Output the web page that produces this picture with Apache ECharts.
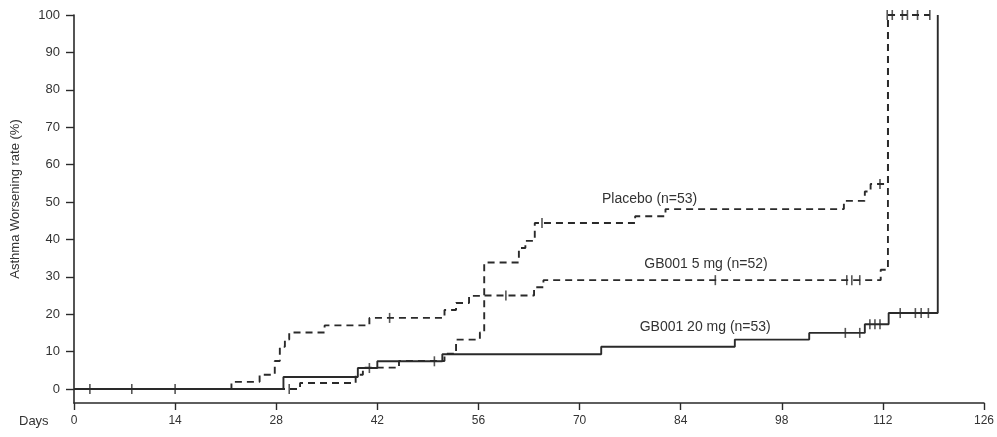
<!DOCTYPE html>
<html>
<head>
<meta charset="utf-8">
<script src="https://cdn.jsdelivr.net/npm/echarts@6/dist/echarts.min.js"></script>
<style>
  html, body { margin: 0; padding: 0; background: #fff; }
  #main { width: 997px; height: 437px; }
</style>
</head>
<body>
<div id="main"></div>
<script>
// 坐标刻度
const xTicks = [0, 14, 28, 42, 56, 70, 84, 98, 112, 126];
const yTicks = [0, 10, 20, 30, 40, 50, 60, 70, 80, 90, 100];

// Kaplan-Meier 曲线 [day, rate%]
const placebo = [[0, 0], [21.8, 1.9], [25.7, 3.8], [27.8, 7.5], [28.5, 11.3], [29.2, 13.2], [29.8, 15.1],
  [34.7, 17], [40.9, 19], [51.3, 21.1], [52.9, 23], [54.7, 24.9], [56.8, 33.8], [61.6, 37.7],
  [62.5, 39.6], [63.8, 44.4], [77.7, 46.2], [81.9, 48.1], [106.6, 50.3], [109.5, 52.8],
  [110.3, 54.8], [112.7, 100], [115.4, 100]];
const placeboCensor = [[43.7, 19], [64.8, 44.4], [111.6, 54.8], [112.6, 100], [113.3, 100], [115.4, 100]];

const gb5 = [[0, 0], [31.3, 1.6], [39, 3.8], [40, 5.7], [45, 7.5], [51.3, 9.4], [52.9, 13.2],
  [56.2, 15.1], [56.8, 25], [63.7, 27.2], [65, 29.1], [111.7, 31.9], [112.7, 100], [118.5, 100]];
const gb5Censor = [[29.8, 0], [59.8, 25], [88.8, 29.1], [107, 29.1], [107.7, 29.1], [108.8, 29.1],
  [114.7, 100], [116.8, 100], [118.5, 100]];

const gb20 = [[0, 0], [29, 3.2], [39.3, 5.6], [42, 7.4], [51, 9.3], [73, 11.3], [91.5, 13.2],
  [101.8, 15], [109.5, 17.3], [112.8, 20.3], [119.6, 100]];
const gb20Censor = [[2.2, 0], [8, 0], [14, 0], [40.9, 5.6], [49.9, 7.4], [106.8, 15], [108.8, 15],
  [110.2, 17.3], [110.9, 17.3], [111.6, 17.3], [114.4, 20.3], [116.5, 20.3], [117.3, 20.3], [118.3, 20.3]];

// 曲线标注
const labelNames = ['Placebo (n=53)', 'GB001 5 mg (n=52)', 'GB001 20 mg (n=53)'];
const labelAt = [[79.7, 50.7], [87.5, 33.3], [87.4, 16.5]];

const ink = '#2a2a2a';
const font = 'Liberation Sans, Arial, sans-serif';

function curve(data, dashed, idx) {
  return {
    type: 'line',
    step: 'end',
    data: data,
    symbol: 'none',
    silent: true,
    lineStyle: { color: ink, width: 1.9, type: dashed ? [7, 5] : 'solid' },
    markPoint: {
      symbol: 'circle',
      symbolSize: 0,
      data: [{
        coord: labelAt[idx],
        label: { show: true, position: 'inside', formatter: labelNames[idx], color: '#333', fontSize: 14, fontFamily: font }
      }]
    }
  };
}

function censor(data) {
  return {
    type: 'scatter',
    data: data,
    symbol: 'rect',
    symbolSize: [1.6, 10],
    itemStyle: { color: ink },
    silent: true
  };
}

const chart = echarts.init(document.getElementById('main'));
const option = {
  backgroundColor: '#fff',
  animation: false,
  grid: { left: 74, right: 11, top: 15, bottom: 34, containLabel: false },
  xAxis: {
    type: 'value',
    min: 0,
    max: 126,
    interval: 14,
    axisLine: { onZero: false, lineStyle: { color: ink, width: 1.6 } },
    axisTick: { length: 7, lineStyle: { color: ink, width: 1.4 } },
    axisLabel: { color: '#333', fontSize: 12, fontFamily: font, margin: 12 },
    splitLine: { show: false }
  },
  yAxis: {
    type: 'value',
    min: -3.75,
    max: 100,
    name: 'Asthma Worsening rate (%)',
    nameLocation: 'middle',
    nameGap: 52,
    nameTextStyle: { color: '#333', fontSize: 13, fontFamily: font, padding: [0, 0, 0, 20] },
    axisLine: { show: true, lineStyle: { color: ink, width: 1.6 } },
    axisTick: { show: true, length: 8, customValues: yTicks, lineStyle: { color: ink, width: 1.4 } },
    axisLabel: { customValues: yTicks, color: '#333', fontSize: 13, fontFamily: font, margin: 14 },
    splitLine: { show: false }
  },
  graphic: [{
    type: 'text', left: 19, top: 415,
    style: { text: 'Days', fill: '#333', fontSize: 13, fontFamily: font }
  }],
  series: [
    curve(placebo, true, 0),
    curve(gb5, true, 1),
    curve(gb20, false, 2),
    censor(placeboCensor),
    censor(gb5Censor),
    censor(gb20Censor)
  ]
};
option && chart.setOption(option);
</script>
</body>
</html>
